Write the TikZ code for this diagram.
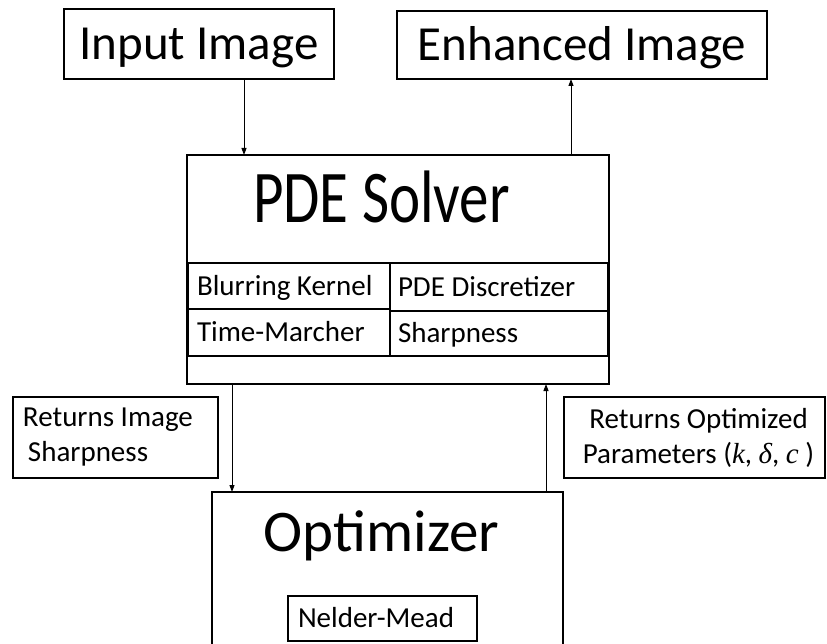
\documentclass[tikz,border=0pt]{standalone}
\usepackage{fontspec}
\setmainfont{Carlito}
\newfontfamily\mifont{Liberation Serif}
\usepackage{graphicx}
\usetikzlibrary{arrows.meta}
\tikzset{
  box/.style={draw, line width=1.2pt, inner sep=0pt, outer sep=0pt, anchor=north west},
  arr/.style={line width=1pt, -{Triangle[length=7pt,width=5pt]}},
  bigtxt/.style={font=\fontsize{49}{59}\selectfont, text height=31pt, text depth=0pt},
  titletxt/.style={font=\fontsize{59}{70}\selectfont, anchor=base, inner sep=0pt},
  smalltxt/.style={font=\fontsize{29}{35}\selectfont},
  cell/.style={box, line width=1.1pt, smalltxt, text height=18.5pt, text depth=0pt}
}
\newcommand{\lline}[2]{\makebox[#1][l]{#2}}
\begin{document}
\begin{tikzpicture}[x=1pt,y=-1pt]
  \clip (0,0) rectangle (827,644);
  \fill[white] (0,0) rectangle (827,644);

  % top boxes
  \node[box, bigtxt, minimum width=270pt, minimum height=70pt] (input) at (64,9) {Input Image};
  \node[box, bigtxt, minimum width=370pt, minimum height=68pt] (enh) at (397,11) {Enhanced Image};

  % PDE solver
  \node[box, minimum width=422pt, minimum height=229pt] (pde) at (187,155) {};
  \node[titletxt] (pdetitle) at (381.5,223) {\scalebox{1}[1.26]{PDE Solver}};
  \node[cell, minimum width=202pt, minimum height=46pt] (c1) at (188,263) {\lline{184pt}{Blurring Kernel}};
  \node[cell, minimum width=218pt, minimum height=48pt] (c2) at (390,263) {\lline{202pt}{PDE Discretizer}};
  \node[cell, minimum width=202pt, minimum height=47pt] (c3) at (188,309) {\lline{184pt}{Time-Marcher}};
  \node[cell, minimum width=218pt, minimum height=45pt] (c4) at (390,311) {\lline{202pt}{Sharpness}};

  % side labels
  \node[box, smalltxt, minimum width=205pt, minimum height=81pt, align=left] (lbox) at (13,397)
    {\lline{185pt}{Returns Image}\\\lline{185pt}{\hspace*{5pt}Sharpness}};
  \node[box, smalltxt, minimum width=261pt, minimum height=81pt, align=center] (rbox) at (564,397)
    {\hspace*{8pt}Returns Optimized\\\hspace*{8pt}Parameters ({\mifont\itshape k}, {\mifont\itshape δ}, {\mifont\itshape c} )};

  % optimizer
  \node[box, minimum width=351pt, minimum height=170pt] (opt) at (212,492) {};
  \node[titletxt] (opttitle) at (381.5,551) {Optimizer};
  \node[box, smalltxt, minimum width=189pt, minimum height=45pt, text height=18.5pt, text depth=0pt] (nm) at (288,596) {\lline{169pt}{Nelder-Mead}};

  % connectors
  \coordinate (xa) at (244,0);
  \coordinate (xb) at (571,0);
  \coordinate (xc) at (232,0);
  \coordinate (xd) at (546,0);
  \draw[arr] (input.south -| xa) -- (pde.north -| xa);
  \draw[arr] (pde.north -| xb) -- (enh.south -| xb);
  \draw[arr] (pde.south -| xc) -- (opt.north -| xc);
  \draw[arr] (opt.north -| xd) -- (pde.south -| xd);
\end{tikzpicture}
\end{document}
